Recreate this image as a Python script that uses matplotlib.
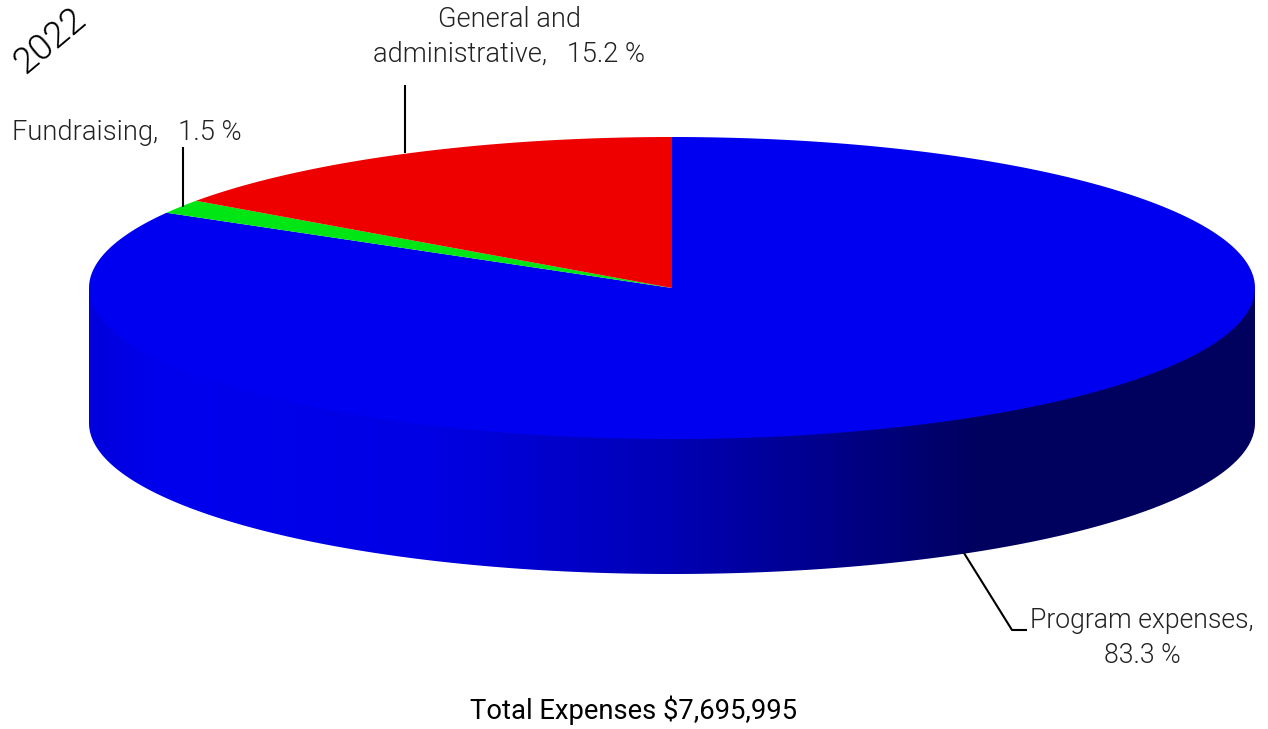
# coding:utf-8
import numpy as np
import matplotlib
matplotlib.use("Agg")
import matplotlib.pyplot as plt
from matplotlib.colors import LinearSegmentedColormap
from matplotlib.patches import Polygon

# expenses by category, percent
categories = ["Program expenses", "Fundraising", "General and\nadministrative"]
shares = [83.3, 1.5, 15.2]
colors = ["#0000f0", "#00e614", "#ee0000"]
year = "2022"
total_text = "Total Expenses $7,695,995"

# pie geometry in pixels
cx, cy = 672, 288
rx, ry = 583, 151
depth = 135


def rim(a, y0=cy):
    # a is clockwise from 12 o'clock, in radians
    return cx + rx * np.sin(a), y0 - ry * np.cos(a)


plt.rcParams['font.family'] = ['Roboto', 'DejaVu Sans']

fig = plt.figure(figsize=(12.68, 7.29), dpi=100)
ax = fig.add_axes([0, 0, 1, 1])
ax.set_xlim(0, 1268)
ax.set_ylim(729, 0)
ax.axis("off")

# side wall, shaded left to right; its top runs under the face so no seam shows
a_front = np.linspace(3 * np.pi / 2, np.pi / 2, 400)
xb, yb = rim(a_front, cy + depth)
wall = Polygon(np.r_[[[cx - rx, cy]], np.c_[xb, yb], [[cx + rx, cy]]],
               closed=True, fc="none", ec="none")
ax.add_patch(wall)
shade = LinearSegmentedColormap.from_list("wall", [
    (0.00, "#0000dc"), (0.06, "#0000ee"), (0.29, "#0000e4"),
    (0.50, "#0000b4"), (0.63, "#00008c"), (0.77, "#00005e"), (1.00, "#00005e"),
])
img = ax.imshow(np.linspace(0, 1, 600)[None, :], cmap=shade, aspect="auto",
                extent=[cx - rx, cx + rx, cy + ry + depth, cy - ry],
                interpolation="bilinear", zorder=1)
img.set_clip_path(wall)
ax.set_xlim(0, 1268)
ax.set_ylim(729, 0)

# top face, wedges run clockwise from 12 o'clock
edges = np.r_[0, np.cumsum(shares)] / sum(shares) * 2 * np.pi
for i, col in enumerate(colors):
    a = np.linspace(edges[i], edges[i + 1], 300)
    x, y = rim(a)
    ax.add_patch(Polygon(np.r_[[[cx, cy]], np.c_[x, y]], closed=True,
                         fc=col, ec="none", zorder=2))

# leader lines
line_kw = dict(color="black", lw=1.5, zorder=3, solid_capstyle="butt")
ax.plot([964, 1012, 1027], [553, 630, 630], **line_kw)
ax.plot([182.5, 182.5], [147, 207], **line_kw)
ax.plot([405, 405], [85, 153], **line_kw)

# labels
text_kw = dict(ha="center", va="center", fontweight=300, color="#222222", zorder=4)
ax.text(1142, 638, f"{categories[0]},\n{shares[0]} %", linespacing=1.37, fontsize=19.2, **text_kw)
ax.text(127, 132, f"{categories[1]},   {shares[1]} %", fontsize=19.6, **text_kw)
ax.text(509, 37, f"{categories[2]},   {shares[2]} %", linespacing=1.37, fontsize=19.5, **text_kw)
ax.text(50, 41, year, ha="center", va="center", rotation=40, fontsize=26.5,
        fontweight=300, color="black", zorder=4)
ax.text(634, 710, total_text, ha="center", va="center", fontsize=19.7, color="black", zorder=4)

fig.savefig("out.png", dpi=100)
